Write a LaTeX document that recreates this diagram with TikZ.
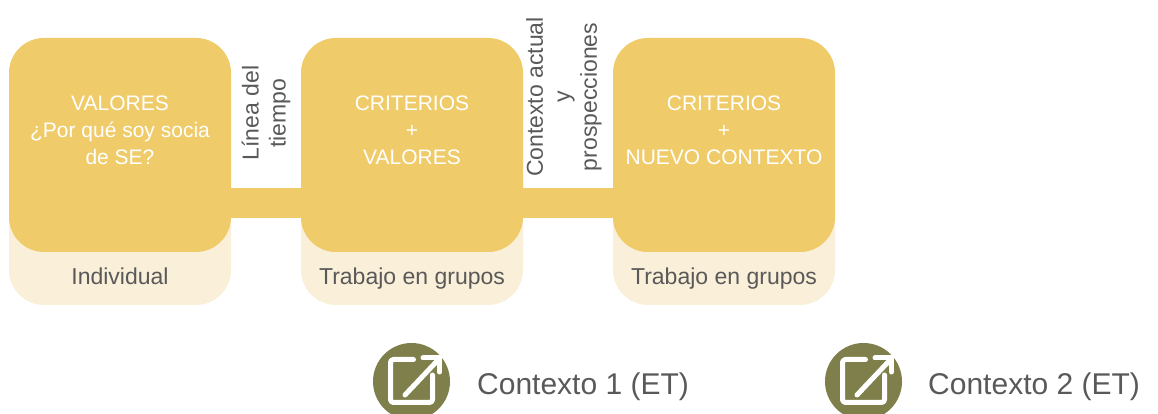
\documentclass[tikz,border=0pt]{standalone}
\usepackage{fontspec}
\setmainfont{Liberation Sans}
\usetikzlibrary{positioning}

\definecolor{mustard}{HTML}{EFCB6A}
\definecolor{cream}{HTML}{FAF0DA}
\definecolor{olive}{HTML}{7F7F4C}
\definecolor{ink}{HTML}{595959}

\tikzset{
  back/.style={fill=cream, rounded corners=35pt, minimum width=222pt, minimum height=267pt, inner sep=0pt, outer sep=0pt},
  tile/.style={fill=mustard, rounded corners=35pt, minimum width=222pt, minimum height=214pt, inner sep=0pt, outer sep=0pt},
  head/.style={text=white, align=center, font=\fontsize{21}{27}\selectfont, inner sep=0pt},
  sub/.style={text=ink, anchor=base, font=\fontsize{23}{28}\selectfont, inner sep=0pt},
  side/.style={text=ink, rotate=90, align=center, font=\fontsize{23}{27}\selectfont, inner sep=0pt},
  bar/.style={draw=mustard, line width=30pt},
  badge/.style={circle, fill=olive, minimum size=77pt, inner sep=0pt},
  foot/.style={text=ink, anchor=base west, font=\fontsize{30}{36}\selectfont, inner sep=0pt},
  linkico/.pic={
    \draw[white, line width=5pt, line cap=round, line join=round, rounded corners=3pt]
      (2pt,22pt) -- (-21pt,22pt) -- (-21pt,-21pt) -- (21pt,-21pt) -- (21pt,6.5pt);
    \draw[white, line width=5pt, line cap=round] (-6.5pt,-13.5pt) -- (27pt,22pt);
    \draw[white, line width=5pt, line cap=round, line join=round]
      (11.5pt,23.5pt) -- (28pt,23.5pt) -- (28pt,9.5pt);
  }
}

\begin{document}
\begin{tikzpicture}[x=1pt, y=1pt]
  \useasboundingbox (0,0) rectangle (1158,414);

  % stages
  \node[back]                  (b1) at (120,242.5) {};
  \node[back, right=70pt of b1] (b2) {};
  \node[back, right=90pt of b2] (b3) {};
  \node[tile, anchor=north] (d1) at (b1.north) {};
  \node[tile, anchor=north] (d2) at (b2.north) {};
  \node[tile, anchor=north] (d3) at (b3.north) {};

  \draw[bar] ([yshift=-58pt]d1.east) -- ([yshift=-58pt]d2.west);
  \draw[bar] ([yshift=-58pt]d2.east) -- ([yshift=-58pt]d3.west);

  \node[head] (t1) at ([yshift=15pt]d1.center) {VALORES\\¿Por qué soy socia\\de SE?};
  \node[head] (t2) at ([yshift=15pt]d2.center) {CRITERIOS\\+\\VALORES};
  \node[head] (t3) at ([yshift=15pt]d3.center) {CRITERIOS\\+\\NUEVO CONTEXTO};

  \node[sub] (s1) at ([yshift=20pt]b1.south) {Individual};
  \node[sub] (s2) at ([yshift=20pt]b2.south) {Trabajo en grupos};
  \node[sub] (s3) at ([yshift=20pt]b3.south) {Trabajo en grupos};

  % between stages
  \node[side] (l1) at (266,301) {Línea del\\tiempo};
  \node[side] (l2) at (564,317) {Contexto actual\\y\\prospecciones};

  % links
  \node[badge] (i1) at (411.5,32.5) {};
  \pic at (i1.center) {linkico};
  \node[foot] (c1) at (477,19) {Contexto 1 (ET)};
  \node[badge] (i2) at (863.5,32.5) {};
  \pic at (i2.center) {linkico};
  \node[foot] (c2) at (928,19) {Contexto 2 (ET)};
\end{tikzpicture}
\end{document}
